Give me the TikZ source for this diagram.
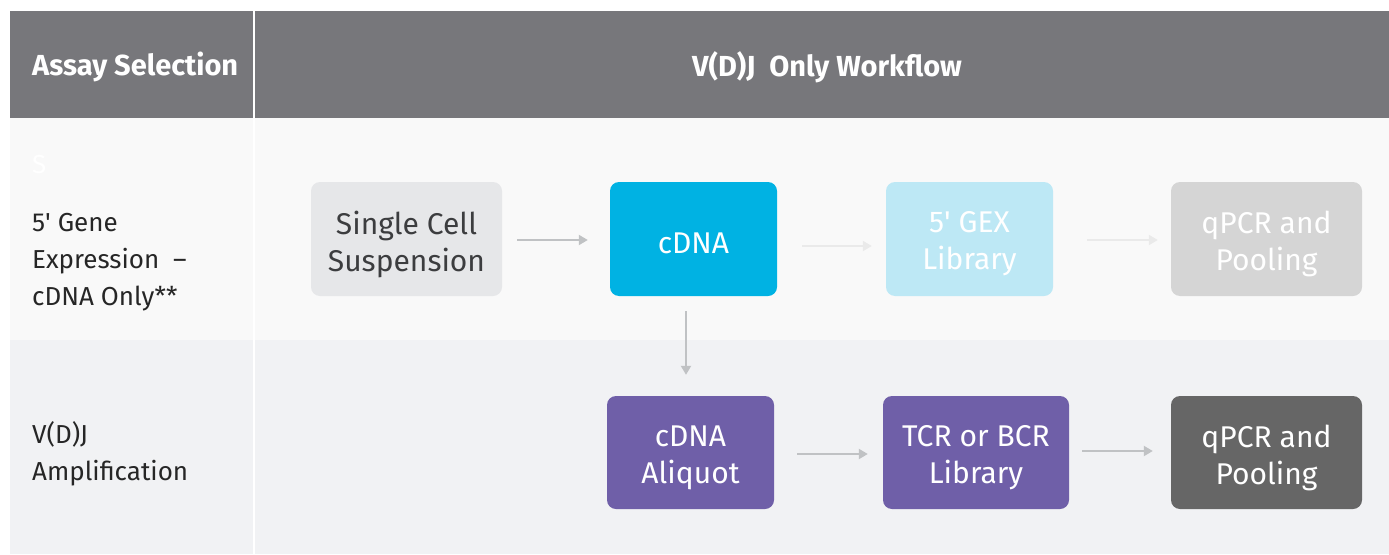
\documentclass[tikz,border=0pt]{standalone}
\usepackage{fontspec}
\setmainfont{Fira Sans}
\usetikzlibrary{arrows.meta}
\definecolor{hdr}{HTML}{77777B}
\definecolor{rowa}{HTML}{F9F9F9}
\definecolor{rowb}{HTML}{F1F2F4}
\definecolor{cyanbox}{HTML}{00B2E3}
\definecolor{paleblue}{HTML}{BDE8F5}
\definecolor{palegray}{HTML}{D5D5D5}
\definecolor{lightbox}{HTML}{E6E7E9}
\definecolor{darktext}{HTML}{3C3D3F}
\definecolor{purplebox}{HTML}{6F5FA8}
\definecolor{darkbox}{HTML}{666666}
\definecolor{arrowgray}{HTML}{C0C2C4}
\definecolor{arrowpale}{HTML}{EAEAEA}
\newcommand{\apos}{\textquotesingle}
\tikzset{
  stepbox/.style={rounded corners=9pt, inner sep=0pt, text width=#1, minimum width=#1,
    minimum height=114pt, align=center, font=\fontsize{30}{37}\selectfont},
  steptext/.style={inner sep=0pt, align=center, font=\fontsize{30}{37}\selectfont},
  flow/.style={draw=arrowgray, line width=2pt, -{Triangle[length=9pt,width=10pt]}},
  flowpale/.style={flow, draw=arrowpale},
  rowlabel/.style={anchor=west, align=left, inner sep=0pt, text=black!85,
    font=\fontsize{26}{37}\selectfont},
  headtext/.style={text=white, inner sep=0pt, font=\fontsize{29}{32}\selectfont\bfseries}
}
\begin{document}
\begin{tikzpicture}[x=1pt, y=-1pt]
\useasboundingbox (0,0) rectangle (1389,554);
\fill[white] (0,0) rectangle (1389,554);
% table background
\fill[hdr] (10,11) rectangle (1389,118);
\fill[rowa] (10,118) rectangle (1389,340);
\fill[rowb] (10,340) rectangle (1389,554);
\draw[white, line width=1.2pt] (254,11) -- (254,554);
% header
\node[headtext, anchor=west] (h1) at (32,67) {Assay Selection};
\node[headtext] (h2) at (827,67) {V(D)J\ \ Only Workflow};
% row labels
\node[rowlabel, text=white] (sx) at (32,165) {S};
\node[rowlabel] (r1) at (32,262) {5\apos{} Gene\\Expression\ \ --\\cDNA Only**};
\node[rowlabel] (r2) at (32,454) {V(D)J\\Amplification};
% row 1 steps (boxes first, their texts placed on top)
\node[stepbox=191pt, fill=lightbox] (scs) at (406.5,239) {};
\node[stepbox=167pt, fill=cyanbox] (cdna) at (693.5,239) {};
\node[stepbox=167pt, fill=paleblue] (gex) at (969.5,239) {};
\node[stepbox=191pt, fill=palegray] (qp1) at (1266.5,239) {};
\node[steptext, text=darktext] (scs-t) at ([yshift=-5pt]scs.center) {Single Cell\\Suspension};
\node[steptext, text=white] (cdna-t) at ([yshift=-4pt]cdna.center) {cDNA};
\node[steptext, text=white] (gex-t) at ([yshift=-5pt]gex.center) {5\apos{} GEX\\Library};
\node[steptext, text=white] (qp1-t) at ([yshift=-5pt]qp1.center) {qPCR and\\Pooling};
% row 2 steps
\node[stepbox=167pt, minimum height=113pt, fill=purplebox] (ali) at (690.5,452.5) {};
\node[stepbox=186pt, minimum height=113pt, fill=purplebox] (tcr) at (976,452.5) {};
\node[stepbox=191pt, minimum height=113pt, fill=darkbox] (qp2) at (1266.5,452.5) {};
\node[steptext, text=white] (ali-t) at ([yshift=-5pt]ali.center) {cDNA\\Aliquot};
\node[steptext, text=white] (tcr-t) at ([yshift=-5pt]tcr.center) {TCR or BCR\\Library};
\node[steptext, text=white] (qp2-t) at ([yshift=-5pt]qp2.center) {qPCR and\\Pooling};
% connectors
\draw[flow] ([xshift=15pt,yshift=-1pt]scs.east) -- ([xshift=-22pt,yshift=-1pt]cdna.west);
\draw[flowpale] ([xshift=25pt,yshift=-7pt]cdna.east) -- ([xshift=-14pt,yshift=-7pt]gex.west);
\draw[flowpale] ([xshift=34pt,yshift=-1pt]gex.east) -- ([xshift=-13pt,yshift=-1pt]qp1.west);
\draw[flow] ([xshift=-7.5pt,yshift=-15pt]cdna.south) -- ([xshift=-4.5pt,yshift=21pt]ali.north);
\draw[flow] ([xshift=23pt,yshift=-1.5pt]ali.east) -- ([xshift=-15pt,yshift=-1.5pt]tcr.west);
\draw[flow] ([xshift=13pt,yshift=1.5pt]tcr.east) -- ([xshift=-18pt,yshift=1.5pt]qp2.west);
\end{tikzpicture}
\end{document}
